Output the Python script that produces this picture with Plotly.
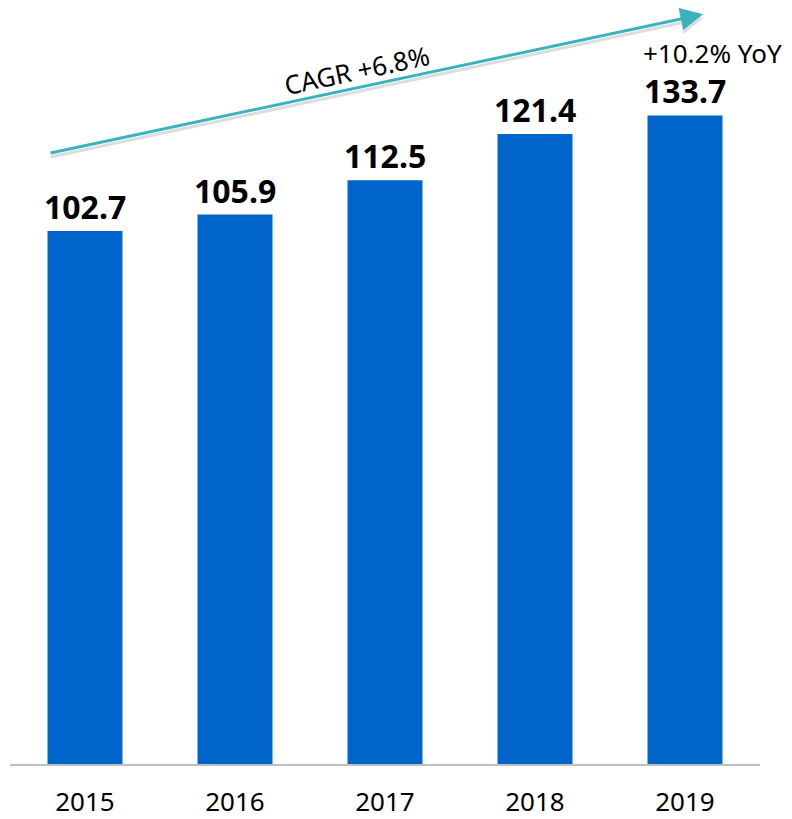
import plotly.graph_objects as go

years = ["2015", "2016", "2017", "2018", "2019"]
values = [102.7, 105.9, 112.5, 121.4, 133.7]
# bar heights as drawn in the picture (last bar is drawn shorter than its value)
bar_heights = [102.7, 105.9, 112.5, 121.4, 125.0]
cagr_label = "CAGR +6.8%"
yoy_label = "+10.2% YoY"

font = "Noto Sans"
bar_color = "#0066CC"
arrow_color = "#3BB3BC"

fig = go.Figure()
fig.add_trace(go.Bar(x=years, y=bar_heights, marker_color=bar_color,
                     marker_line_width=0, hoverinfo="skip"))

# value labels above bars (numeric index so "2015" isn't read as a position)
for i, (h, v) in enumerate(zip(bar_heights, values)):
    fig.add_annotation(x=i, y=h, xref="x", yref="y", text="<b>%.1f</b>" % v,
                       showarrow=False, yanchor="bottom", yshift=1,
                       font=dict(family=font, size=32, color="black"))

# growth arrow (axis coords) with a soft shadow underneath
for dy, col in [(4, "rgba(0,0,0,0.13)"), (0, arrow_color)]:
    fig.add_annotation(x=4.12, y=144.5, ax=-0.24, ay=117.7,
                       xref="x", yref="y", axref="x", ayref="y",
                       yshift=-dy, text="", showarrow=True,
                       arrowhead=2, arrowsize=1.5, arrowwidth=3, arrowcolor=col)

fig.add_annotation(x=0.463, y=0.918, xref="paper", yref="paper", text=cagr_label,
                   showarrow=False, textangle=-12, xanchor="center", yanchor="middle",
                   font=dict(family=font, size=26, color="black"))
fig.add_annotation(x=0.937, y=0.940, xref="paper", yref="paper", text=yoy_label,
                   showarrow=False, xanchor="center", yanchor="middle",
                   font=dict(family=font, size=26, color="black"))

# page body adds an 8px margin, so the figure is a bit smaller than the window
fig.update_layout(
    width=784, height=811,
    margin=dict(l=2, r=32, t=0, b=55),
    paper_bgcolor="white", plot_bgcolor="white",
    bargap=0.5, showlegend=False,
    xaxis=dict(type="category", range=[-0.5, 4.5], autorange=False, automargin=False,
               showline=True, linecolor="#BFBFBF", linewidth=1.5,
               ticks="outside", ticklen=14, tickcolor="rgba(0,0,0,0)",
               tickfont=dict(family=font, size=26, color="black"),
               showgrid=False, zeroline=False),
    yaxis=dict(range=[0, 145.7], autorange=False, automargin=False, visible=False,
               showgrid=False, zeroline=False),
)

fig.write_html("out.html")
